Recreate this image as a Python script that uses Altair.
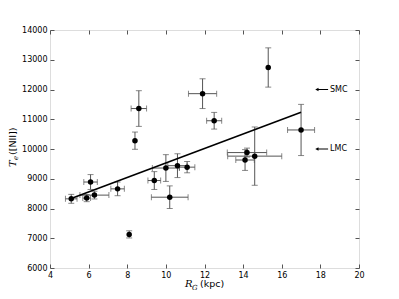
import altair as alt
import pandas as pd

# Galactocentric distance (kpc) and electron temperature Te([NII]) (K)
R = [5.1, 5.9, 6.1, 6.3, 7.5, 8.1, 8.4, 8.6, 9.4, 10.0, 10.2, 10.6, 11.1, 11.9, 12.5, 15.3, 14.2, 14.1, 14.6, 17.0]
T = [8325, 8350, 8890, 8450, 8660, 7130, 10280, 11360, 8940, 9360, 8380, 9440, 9390, 11860, 10950, 12740, 9880, 9630, 9760, 10640]
R_err = [0.3, 0.2, 0.35, 0.75, 0.35, 0.0, 0.0, 0.4, 0.33, 0.7, 0.95, 0.5, 0.4, 0.73, 0.39, 0.0, 1.02, 0.48, 1.4, 0.7]
T_err = [150, 120, 250, 130, 230, 120, 290, 600, 300, 450, 380, 400, 190, 500, 280, 660, 150, 350, 980, 860]

# fitted gradient line endpoints
fit_R = [5.2, 17.0]
fit_T = [8360, 11235]

# Magellanic cloud markers
mc_names = ["SMC", "LMC"]
mc_T = [12000, 10000]
mc_arrow_head = [17.82, 17.82]
mc_arrow_tail = [18.4, 18.4]
mc_text_x = [18.5, 18.5]

x_ticks = [4, 6, 8, 10, 12, 14, 16, 18, 20]
y_ticks = [6000, 7000, 8000, 9000, 10000, 11000, 12000, 13000, 14000]

df = pd.DataFrame({"R": R, "Temp": T, "Rerr": R_err, "Terr": T_err})
df["Rlo"] = df["R"] - df["Rerr"]
df["Rhi"] = df["R"] + df["Rerr"]
df["Tlo"] = df["Temp"] - df["Terr"]
df["Thi"] = df["Temp"] + df["Terr"]
dfx = df[df["Rerr"] > 0]

capsx = pd.concat([dfx[["Rlo", "Temp"]].rename(columns={"Rlo": "xc"}),
                   dfx[["Rhi", "Temp"]].rename(columns={"Rhi": "xc"})])
capsy = pd.concat([df[["R", "Tlo"]].rename(columns={"Tlo": "yc"}),
                   df[["R", "Thi"]].rename(columns={"Thi": "yc"})])

fit = pd.DataFrame({"R": fit_R, "Temp": fit_T})
mc = pd.DataFrame({"name": mc_names, "Temp": mc_T, "head": mc_arrow_head,
                   "tail": mc_arrow_tail, "tx": mc_text_x})

xs = alt.Scale(domain=[4, 20], nice=False, zero=False)
ys = alt.Scale(domain=[6000, 14000], nice=False, zero=False)

GRAY = "#555555"

def axis_common(orient, labels=True):
    return alt.Axis(orient=orient, values=x_ticks if orient in ("bottom", "top") else y_ticks,
                    labels=labels, title=None, domain=False, grid=False,
                    ticks=True, tickSize=4, offset=-4, tickColor=GRAY, tickWidth=1,
                    labelPadding=3, labelFont="DejaVu Sans", labelFontSize=8,
                    labelColor="black", labelFlush=False, labelOverlap=False,
                    format="d")

# error bars
hbar = alt.Chart(dfx).mark_rule(color=GRAY, strokeWidth=1).encode(
    x=alt.X("Rlo:Q", scale=xs, axis=None), x2="Rhi:Q",
    y=alt.Y("Temp:Q", scale=ys, axis=None))
vbar = alt.Chart(df).mark_rule(color=GRAY, strokeWidth=1).encode(
    x=alt.X("R:Q", scale=xs, axis=None),
    y=alt.Y("Tlo:Q", scale=ys, axis=None), y2="Thi:Q")
hcap = alt.Chart(capsx).mark_tick(color=GRAY, orient="vertical", size=6, thickness=1).encode(
    x=alt.X("xc:Q", scale=xs, axis=None), y=alt.Y("Temp:Q", scale=ys, axis=None))
vcap = alt.Chart(capsy).mark_tick(color=GRAY, orient="horizontal", size=6, thickness=1).encode(
    x=alt.X("R:Q", scale=xs, axis=None), y=alt.Y("yc:Q", scale=ys, axis=None))

line = alt.Chart(fit).mark_line(color="black", strokeWidth=1.6).encode(
    x=alt.X("R:Q", scale=xs, axis=axis_common("top", labels=False)),
    y=alt.Y("Temp:Q", scale=ys, axis=axis_common("right", labels=False)))

pts = alt.Chart(df).mark_circle(color="black", opacity=1, size=30).encode(
    x=alt.X("R:Q", scale=xs, axis=axis_common("bottom")),
    y=alt.Y("Temp:Q", scale=ys, axis=axis_common("left")))

arrow = alt.Chart(mc).mark_rule(color="black", strokeWidth=1).encode(
    x=alt.X("head:Q", scale=xs, axis=None), x2="tail:Q",
    y=alt.Y("Temp:Q", scale=ys, axis=None))
arrowhead = alt.Chart(mc).mark_point(shape="triangle-left", filled=True, color="black",
                                     opacity=1, size=14).encode(
    x=alt.X("head:Q", scale=xs, axis=None), y=alt.Y("Temp:Q", scale=ys, axis=None))
mctext = alt.Chart(mc).mark_text(align="left", baseline="middle", font="DejaVu Sans",
                                 fontSize=8, color="black").encode(
    x=alt.X("tx:Q", scale=xs, axis=None), y=alt.Y("Temp:Q", scale=ys, axis=None),
    text="name:N")

# axis titles
title_df = pd.DataFrame({"a": [0]})
def txt(s, x, y, size, font, style="normal", angle=0, align="left"):
    return alt.Chart(title_df).mark_text(text=s, align=align, baseline="alphabetic",
                                         font=font, fontSize=size, fontStyle=style,
                                         angle=angle, color="black").encode(
        x=alt.value(x), y=alt.value(y))

xt1 = txt("R", 135, 257, 10, "DejaVu Serif", "italic")
xt2 = txt("G", 142, 259.5, 7, "DejaVu Serif", "italic")
xt3 = txt("(kpc)", 150, 257, 9.5, "DejaVu Sans")
yt1 = txt("T", -34, 137, 10, "DejaVu Serif", "italic", angle=270)
yt2 = txt("e", -32, 130, 7, "DejaVu Serif", "italic", angle=270)
yt3 = txt("([NII])", -34, 125, 9.5, "DejaVu Sans", angle=270)

chart = alt.layer(hbar, vbar, hcap, vcap, line, pts, arrow, arrowhead, mctext,
                  xt1, xt2, xt3, yt1, yt2, yt3).resolve_axis(
    x="independent", y="independent").properties(
    width=309, height=238,
    autosize=alt.AutoSizeParams(type="none"),
    padding={"left": 42, "top": 22, "right": 32, "bottom": 23},
).configure_view(stroke=GRAY, strokeWidth=1.2).configure(background="white")

chart.save("out.html", embed_options={"renderer": "svg", "actions": False})
